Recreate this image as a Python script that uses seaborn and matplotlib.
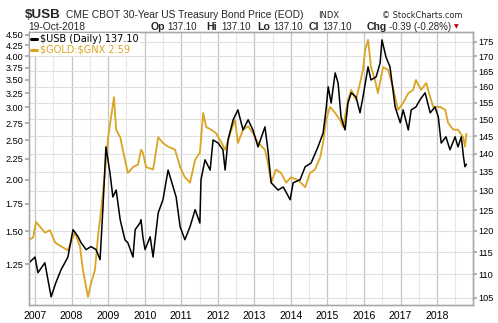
import matplotlib
matplotlib.use("Agg")
import matplotlib.pyplot as plt
import seaborn as sns
import numpy as np
from matplotlib.ticker import FixedLocator, NullLocator, FixedFormatter
from matplotlib.lines import Line2D

# ---------------- data (decimal years) ----------------
usb_dates = [2006.84, 2007.00, 2007.08, 2007.27, 2007.44, 2007.57, 2007.71, 2007.90,
             2008.04, 2008.18, 2008.26, 2008.40, 2008.53, 2008.67, 2008.78, 2008.86,
             2008.94, 2009.05, 2009.13, 2009.22, 2009.33, 2009.46, 2009.54, 2009.68,
             2009.74, 2009.87, 2009.90, 2009.95, 2010.01, 2010.15, 2010.23, 2010.37,
             2010.50, 2010.64, 2010.72, 2010.86, 2010.97, 2011.10, 2011.24, 2011.38,
             2011.51, 2011.54, 2011.65, 2011.79, 2011.87, 2012.01, 2012.14, 2012.20,
             2012.28, 2012.42, 2012.55, 2012.69, 2012.83, 2012.96, 2013.10, 2013.29,
             2013.37, 2013.46, 2013.65, 2013.79, 2013.98, 2014.06, 2014.25, 2014.39,
             2014.55, 2014.74, 2014.88, 2014.96, 2015.02, 2015.10, 2015.21, 2015.29,
             2015.37, 2015.48, 2015.56, 2015.65, 2015.78, 2015.89, 2015.97, 2016.11,
             2016.19, 2016.33, 2016.44, 2016.49, 2016.60, 2016.71, 2016.85, 2016.99,
             2017.07, 2017.21, 2017.29, 2017.42, 2017.53, 2017.67, 2017.81, 2017.94,
             2018.03, 2018.11, 2018.24, 2018.35, 2018.49, 2018.57, 2018.66, 2018.72,
             2018.76, 2018.80]
usb_values = [112.6, 113.9, 110.4, 112.6, 105.2, 108.2, 111.0, 113.9,
              120.3, 118.6, 117.2, 115.6, 116.3, 115.6, 113.3, 125.9,
              141.9, 134.8, 128.4, 130.2, 122.7, 117.9, 117.2, 113.9,
              120.3, 121.9, 122.7, 118.6, 115.6, 118.6, 113.9, 124.4,
              127.7, 135.5, 132.9, 128.4, 121.0, 117.9, 121.0, 125.2,
              121.9, 132.9, 138.3, 135.5, 143.9, 143.0, 141.1, 135.5,
              143.9, 149.8, 152.8, 146.8, 149.8, 146.8, 141.9, 147.7,
              141.1, 132.1, 130.2, 131.0, 127.7, 132.1, 132.9, 136.4,
              137.4, 141.9, 145.9, 152.8, 160.0, 154.9, 164.5, 161.2,
              150.7, 146.8, 154.9, 158.1, 156.8, 151.9, 156.8, 166.5,
              162.2, 163.2, 167.8, 175.7, 169.8, 166.5, 153.7, 148.9,
              152.8, 146.8, 152.8, 153.7, 155.9, 158.1, 151.9, 153.7,
              150.7, 143.0, 144.8, 141.1, 144.8, 141.9, 144.8, 139.1,
              136.4, 137.1]

ratio_dates = [2006.84, 2006.95, 2007.03, 2007.14, 2007.27, 2007.41, 2007.55, 2007.71,
               2007.90, 2008.09, 2008.23, 2008.31, 2008.45, 2008.53, 2008.64, 2008.72,
               2008.81, 2008.92, 2009.00, 2009.08, 2009.16, 2009.22, 2009.33, 2009.46,
               2009.54, 2009.68, 2009.82, 2009.90, 2009.95, 2010.04, 2010.23, 2010.37,
               2010.50, 2010.64, 2010.83, 2010.97, 2011.10, 2011.24, 2011.38, 2011.51,
               2011.60, 2011.68, 2011.82, 2011.95, 2012.06, 2012.20, 2012.34, 2012.47,
               2012.55, 2012.69, 2012.83, 2012.96, 2013.10, 2013.29, 2013.37, 2013.46,
               2013.59, 2013.73, 2013.87, 2014.00, 2014.20, 2014.39, 2014.52, 2014.66,
               2014.80, 2014.88, 2014.96, 2015.07, 2015.21, 2015.34, 2015.43, 2015.56,
               2015.65, 2015.78, 2015.89, 2015.97, 2016.03, 2016.11, 2016.19, 2016.30,
               2016.38, 2016.52, 2016.66, 2016.79, 2016.93, 2017.07, 2017.21, 2017.34,
               2017.42, 2017.56, 2017.70, 2017.81, 2017.89, 2018.08, 2018.22, 2018.30,
               2018.44, 2018.57, 2018.71, 2018.76, 2018.80]
ratio_values = [1.43, 1.45, 1.58, 1.54, 1.49, 1.51, 1.41, 1.38,
                1.35, 1.49, 1.38, 1.21, 1.04, 1.12, 1.21, 1.45,
                1.69, 2.12, 2.54, 2.84, 3.18, 2.65, 2.54, 2.24,
                2.08, 2.15, 2.18, 2.37, 2.33, 2.15, 2.12, 2.54,
                2.46, 2.41, 2.37, 2.15, 2.03, 1.97, 2.24, 2.33,
                2.91, 2.69, 2.65, 2.60, 2.50, 2.37, 2.60, 2.80,
                2.46, 2.65, 2.70, 2.60, 2.46, 2.37, 2.20, 1.97,
                2.12, 2.08, 1.97, 2.03, 2.00, 1.92, 2.08, 2.12,
                2.27, 2.46, 2.80, 3.01, 2.91, 2.80, 2.69, 3.13,
                3.31, 3.13, 3.44, 3.70, 4.14, 4.38, 3.76, 3.50,
                3.25, 3.76, 3.70, 3.36, 2.96, 3.08, 3.25, 3.31,
                3.50, 3.31, 3.44, 3.18, 3.01, 3.01, 2.96, 2.75,
                2.65, 2.65, 2.54, 2.41, 2.59]

usb_ticks = [105, 110, 115, 120, 125, 130, 135, 140, 145, 150, 155, 160, 165, 170, 175]
ratio_ticks = [1.25, 1.50, 1.75, 2.00, 2.25, 2.50, 2.75, 3.00, 3.25, 3.50, 3.75, 4.00, 4.25, 4.50]
year_ticks = list(range(2007, 2019))
half_year_ticks = [y + 0.5 for y in year_ticks]

usb_label = r"\$USB (Daily) 137.10"
ratio_label = r"\$GOLD:\$GNX 2.59"

# ---------------- style ----------------
sns.set_theme(style="white")
plt.rcParams['font.family'] = ['Liberation Sans', 'DejaVu Sans']

W, H = 498, 323
fig = plt.figure(figsize=(W / 100, H / 100), dpi=100)
L, R, T, B = 29, 473, 32, 305
rect = [L / W, 1 - B / H, (R - L) / W, (B - T) / H]

ax_grid = fig.add_axes(rect)
ax_gold = ax_grid.twinx()
ax_black = ax_grid.twinx()

GOLD = '#DAA520'
SPINE = '#a8a8a8'

for a in (ax_grid, ax_black):
    a.set_yscale('log')
    a.set_ylim(103.5, 178.5)
ax_gold.set_yscale('log')
ax_gold.set_ylim(0.994, 4.576)
ax_grid.set_xlim(2006.836, 2018.98)

sns.lineplot(x=ratio_dates, y=ratio_values, ax=ax_gold, color=GOLD, linewidth=1.3,
             estimator=None, sort=False)
sns.lineplot(x=usb_dates, y=usb_values, ax=ax_black, color='black', linewidth=1.1,
             estimator=None, sort=False)

# x axis
ax_grid.xaxis.set_major_locator(FixedLocator(year_ticks))
ax_grid.xaxis.set_minor_locator(FixedLocator(half_year_ticks))
ax_grid.set_xticklabels([str(y) for y in year_ticks])
ax_grid.grid(which='major', axis='x', color='#c4c4c4', linewidth=0.9)
ax_grid.grid(which='minor', axis='x', color='#e6e6e6', linewidth=0.8)
ax_grid.tick_params(axis='x', which='major', length=2, pad=2, labelsize=7.6,
                    colors=SPINE, labelcolor='black')
ax_grid.tick_params(axis='x', which='minor', length=0)

# right axis (USB) with horizontal grid
ax_grid.yaxis.tick_right()
ax_grid.yaxis.set_major_locator(FixedLocator(usb_ticks))
ax_grid.yaxis.set_minor_locator(NullLocator())
ax_grid.yaxis.set_major_formatter(FixedFormatter([str(t) for t in usb_ticks]))
ax_grid.grid(which='major', axis='y', color='#e0e0e0', linewidth=0.8)
ax_grid.tick_params(axis='y', which='major', length=3, pad=1, labelsize=6.6,
                    colors=SPINE, labelcolor='black', right=True, left=False)

# left axis (ratio)
ax_gold.yaxis.tick_left()
ax_gold.yaxis.set_major_locator(FixedLocator(ratio_ticks))
ax_gold.yaxis.set_minor_locator(NullLocator())
ax_gold.yaxis.set_major_formatter(FixedFormatter([f"{t:.2f}" for t in ratio_ticks]))
ax_gold.tick_params(axis='y', which='major', length=3, pad=1, labelsize=6.6,
                    colors=SPINE, labelcolor='black', left=True, right=False)

# black axis: no ticks
ax_black.yaxis.set_major_locator(NullLocator())
ax_black.yaxis.set_minor_locator(NullLocator())
ax_black.tick_params(axis='y', which='both', length=0, labelright=False, labelleft=False)

for a in (ax_grid, ax_gold, ax_black):
    a.set_xlabel('')
    a.set_ylabel('')
    for s in a.spines.values():
        s.set_color(SPINE)
        s.set_linewidth(0.9)

handles = [Line2D([], [], color='black', linewidth=2.2),
           Line2D([], [], color=GOLD, linewidth=2.2)]
leg = ax_black.legend(handles, [usb_label, ratio_label], loc='upper left',
                      bbox_to_anchor=(0.0, 1.0), frameon=True, facecolor='white',
                      edgecolor='none', framealpha=1.0, fancybox=False,
                      handlelength=0.55, handletextpad=0.35, labelspacing=0.05,
                      borderpad=0.15, borderaxespad=0.1, labelcolor='linecolor',
                      prop={'family': 'DejaVu Sans', 'size': 7})

# ---------------- header texts ----------------
def px(x, y):
    return x / W, 1 - y / H

fig.text(*px(25, 17.5), r"\$USB", fontsize=9.6, fontweight='bold', va='baseline', ha='left')
fig.text(*px(66, 17.5), "CME CBOT 30-Year US Treasury Bond Price (EOD)", fontsize=7.4,
         va='baseline', ha='left')
fig.text(*px(318, 17.5), "INDX", fontsize=6.0, family='DejaVu Sans', va='baseline', ha='left')
fig.text(*px(462, 17.5), "\u00a9 StockCharts.com", fontsize=5.9, family='DejaVu Sans',
         va='baseline', ha='right', color='#222222')

fig.text(*px(28, 29.5), "19-Oct-2018", fontsize=7.4, va='baseline', ha='left')
pieces = [(151, "Op", True), (167, "137.10", False), (206, "Hi", True), (221, "137.10", False),
          (257, "Lo", True), (273, "137.10", False), (309, "Cl", True), (322, "137.10", False),
          (367, "Chg", True), (389, "-0.39 (-0.28%)", False)]
for x, s, bold in pieces:
    fig.text(*px(x, 29.5), s, fontsize=7.6 if bold else 7.0,
             fontweight='bold' if bold else 'normal', va='baseline', ha='left')
fig.text(*px(454, 28.5), "\u25bc", fontsize=4.4, family='DejaVu Sans', color='#c00000',
         va='baseline', ha='left')

fig.savefig("out.png", dpi=100)
